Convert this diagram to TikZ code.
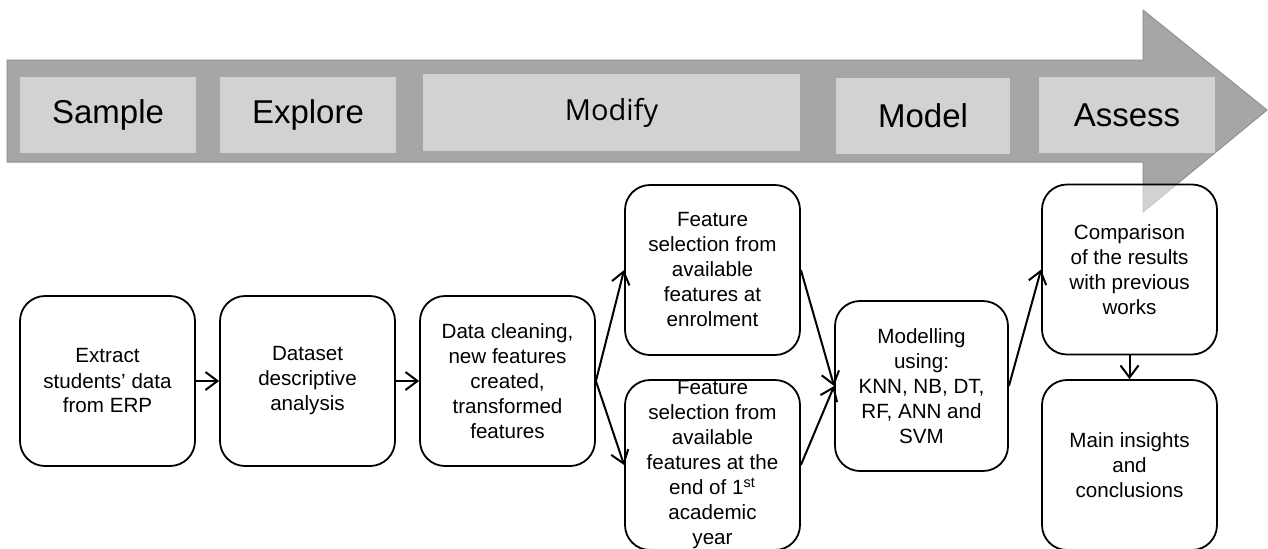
\documentclass[tikz,border=0pt]{standalone}
\usepackage{fontspec}
\setmainfont{Liberation Sans}
\newfontfamily\modfont{Open Sans}
\usetikzlibrary{arrows.meta}
\definecolor{arrowgray}{HTML}{A6A6A6}
\definecolor{arrowedge}{HTML}{919191}
\definecolor{stagegray}{HTML}{D2D2D2}
\tikzset{
  stagebox/.style={fill=stagegray, inner sep=0pt, font=\fontsize{16.5}{20}\selectfont},
  flowbox/.style={draw=black, line width=0.9pt, rounded corners=12.5pt, fill=white,
    minimum width=87.5pt, minimum height=85pt, inner sep=0pt, align=center,
    font=\fontsize{10.3}{12.5}\selectfont},
  flowarrow/.style={line width=1pt, -{Straight Barb[length=6pt,width=9pt,line width=1pt]}}
}
\begin{document}
\begin{tikzpicture}[x=0.5pt,y=-0.5pt]
\useasboundingbox (0,0) rectangle (1268,548);
\clip (0,0) rectangle (1268,548);
% big process arrow
\filldraw[fill=arrowgray, draw=arrowedge, line width=0.5pt]
  (7,60) -- (1143,60) -- (1143,10) -- (1267,110) -- (1143,212) -- (1143,162) -- (7,162) -- cycle;
% stage labels
\node[stagebox, minimum width=88pt, minimum height=38pt] (sample) at (108,115) {Sample};
\node[stagebox, minimum width=88pt, minimum height=38pt] (explore) at (308,115) {Explore};
\node[stagebox, minimum width=188.5pt, minimum height=38.5pt, font=\modfont\fontsize{14.5}{18}\selectfont] (modify) at (611.5,112.5) {Modify};
\node[stagebox, minimum width=87pt, minimum height=38pt] (model) at (923,116) {Model};
\node[stagebox, minimum width=88pt, minimum height=38pt] (assess) at (1127,115) {Assess};
% flow boxes
\node[flowbox] (ex) at (107.5,381) {Extract\\students’ data\\from ERP};
\node[flowbox] (ds) at (307.5,381) {Dataset\\descriptive\\analysis};
\node[flowbox] (dc) at (507.5,381) {Data cleaning,\\new features\\created,\\transformed\\features};
\node[flowbox] (f1) at (712.5,270) {Feature\\selection from\\available\\features at\\enrolment};
\node[flowbox] (f2) at (712.5,465) {Feature\\selection from\\available\\features at the\\end of 1\textsuperscript{st}\\academic\\year};
\node[flowbox, minimum width=86.5pt] (mo) at (921.5,386) {Modelling\\using:\\KNN, NB, DT,\\RF, ANN and\\SVM};
\node[flowbox, fill opacity=0.5, text opacity=1, draw opacity=1] (cp) at (1129.5,269.5) {Comparison\\of the results\\with previous\\works};
\node[flowbox] (in) at (1129.5,465) {Main insights\\and\\conclusions};
% connectors
\draw[flowarrow] (ex.east) -- (ds.west);
\draw[flowarrow] (ds.east) -- (dc.west);
\draw[flowarrow] (dc.east) -- (f1.west);
\draw[flowarrow] (dc.east) -- (f2.west);
\draw[flowarrow] (f1.east) -- (mo.west);
\draw[flowarrow] (f2.east) -- (mo.west);
\draw[flowarrow] (mo.east) -- (cp.west);
\draw[flowarrow] (cp.south) -- (in.north);
\end{tikzpicture}
\end{document}
